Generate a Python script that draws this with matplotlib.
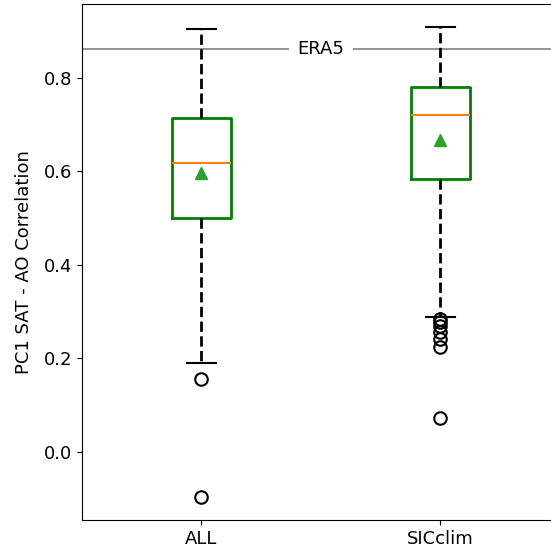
import matplotlib
matplotlib.use("Agg")
import matplotlib.pyplot as plt

plt.rcParams['font.size'] = 13

labels = ["ALL", "SICclim"]
whislo = [0.190, 0.289]
q1 = [0.500, 0.584]
med = [0.618, 0.721]
mean = [0.597, 0.667]
q3 = [0.714, 0.781]
whishi = [0.905, 0.909]
fliers = [
    [0.156, -0.096],
    [0.285, 0.278, 0.270, 0.257, 0.242, 0.225, 0.073],
]
era5 = 0.862

stats = []
for i in range(len(labels)):
    stats.append(dict(label=labels[i], whislo=whislo[i], q1=q1[i], med=med[i],
                      mean=mean[i], q3=q3[i], whishi=whishi[i], fliers=fliers[i]))

fig = plt.figure(figsize=(5.51, 5.56), dpi=100)
ax = fig.add_axes([0.1488, 0.0647, 0.8675, 0.9281])

ax.axhline(era5, color='gray', lw=1.2, zorder=0)
ax.text(1.5, era5, "ERA5", ha='center', va='center',
        bbox=dict(facecolor='white', edgecolor='none', pad=6), zorder=1)

ax.bxp(stats, widths=0.25, showmeans=True,
       boxprops=dict(color='green', lw=2),
       medianprops=dict(color='C1', lw=1.5),
       whiskerprops=dict(color='black', lw=2, ls='--'),
       capprops=dict(color='black', lw=1.5),
       meanprops=dict(marker='^', markerfacecolor='C2', markeredgecolor='C2', markersize=9),
       flierprops=dict(marker='o', markerfacecolor='none', markeredgecolor='black',
                       markersize=9, markeredgewidth=1.5))

ax.set_xlim(0.5, 2.5)
ax.set_ylim(-0.1455, 0.958)
ax.set_yticks([0.0, 0.2, 0.4, 0.6, 0.8])
ax.set_ylabel("PC1 SAT - AO Correlation", labelpad=8)

fig.savefig("out.png", dpi=100)
